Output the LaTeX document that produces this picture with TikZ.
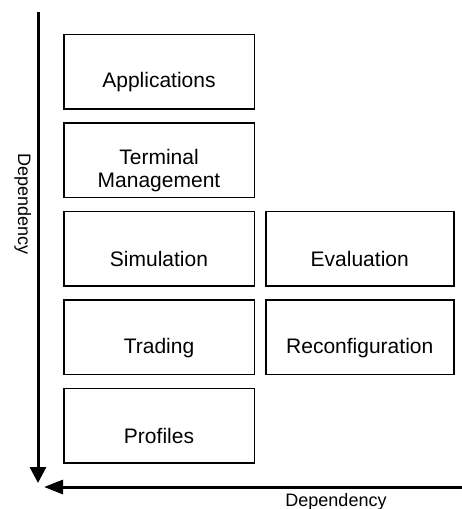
\documentclass[tikz,border=0pt]{standalone}
\usepackage{fontspec}
\setmainfont{Liberation Sans}
\usetikzlibrary{arrows.meta,positioning}

\newcommand{\lift}{\rule{0pt}{37pt}} % pousse le texte vers le bas

\tikzset{
    layer/.style={draw, line width=1.5pt, minimum width=190.5pt, minimum height=74.5pt,
        inner sep=0pt, align=center, font=\fontsize{21}{23}\selectfont},
    deparrow/.style={line width=3pt, -{Triangle[length=16pt,width=16pt]}},
    deplabel/.style={font=\fontsize{18}{18}\selectfont, anchor=base},
}

\begin{document}
\begin{tikzpicture}[x=1pt, y=-1pt]
        \useasboundingbox (0,0) rectangle (462,509);
        \def\gap{12.5pt} % espace entre les blocs

        % Colonne de gauche
        \node[layer] (apps) at (159,71.5) {\lift Applications};
        \node[layer, below=\gap of apps] (term) {\lift Terminal\\Management};
        \node[layer, below=\gap of term] (sim) {\lift Simulation};
        \node[layer, below=\gap of sim] (trade) {\lift Trading};
        \node[layer, below=\gap of trade] (prof) {\lift Profiles};

        % Colonne de droite
        \node[layer, minimum width=188pt, right=10pt of sim] (eval) {\lift Evaluation};
        \node[layer, minimum width=188pt, right=10pt of trade] (reconf) {\lift Reconfiguration};

        % Axes de dependance
        \coordinate (vtop) at (38,12);
        \coordinate (vbot) at (38,483);
        \coordinate (hright) at (462,487);
        \coordinate (hleft) at (44,487);
        \draw[deparrow] (vtop) -- (vbot);
        \draw[deparrow, -{Triangle[length=19pt,width=14pt]}] (hright) -- (hleft);

        \node[deplabel, rotate=-90] (vdep) at (18,204) {Dependency};
        \node[deplabel] (hdep) at (336,506) {Dependency};
\end{tikzpicture}
\end{document}
